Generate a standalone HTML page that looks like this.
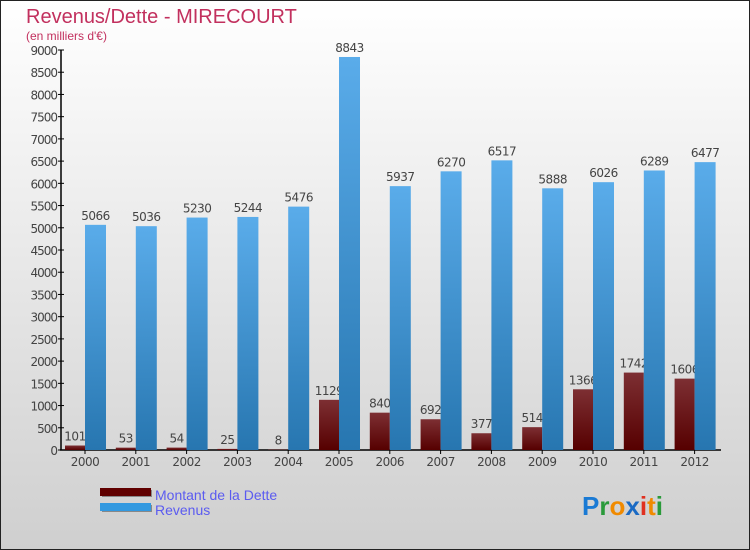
<!DOCTYPE html>
<html><head><meta charset="utf-8"><style>
html,body{margin:0;padding:0}
body{width:750px;height:550px;overflow:hidden;font-family:"DejaVu Sans","Liberation Sans",sans-serif}
#wrap{position:absolute;left:0;top:0;width:748px;height:548px;border:1px solid #222;background:linear-gradient(#ffffff,#cfcfcf)}
</style></head><body>
<div id="wrap">
<svg id="chart" width="750" height="550" style="position:absolute;left:-1px;top:-1px">
<defs>
<linearGradient id="gRed" x1="0" y1="0" x2="0" y2="1"><stop offset="0" stop-color="#7d2f33"/><stop offset="1" stop-color="#560000"/></linearGradient>
<linearGradient id="gBlue" x1="0" y1="0" x2="0" y2="1"><stop offset="0" stop-color="#5aacea"/><stop offset="1" stop-color="#2776b0"/></linearGradient>
</defs>
<text x="26" y="23" font-size="20" fill="#c2305e" font-family="Liberation Sans,sans-serif">Revenus/Dette - MIRECOURT</text>
<text x="26" y="40" font-size="12" fill="#c2305e" font-family="Liberation Sans,sans-serif">(en milliers d'€)</text>
<g id="plot"></g>
<g>
<rect x="102" y="490" width="50" height="7" fill="#888"/><rect x="100" y="488" width="51" height="8" fill="#600000"/>
<text x="155" y="500" font-size="14" fill="#5b5bf0" font-family="Liberation Sans,sans-serif">Montant de la Dette</text>
<rect x="102" y="505" width="50" height="7" fill="#888"/><rect x="100" y="503" width="51" height="8" fill="#3399e0"/>
<text x="155" y="515" font-size="14" fill="#5b5bf0" font-family="Liberation Sans,sans-serif">Revenus</text>
</g>
<g font-family="Liberation Sans,sans-serif" font-size="26" font-weight="bold">
<text x="582" y="515"><tspan fill="#1a7ad4">P</tspan><tspan fill="#2a9a3a">r</tspan><tspan fill="#f08a00">o</tspan><tspan fill="#1a6ac4">x</tspan><tspan fill="#e03020">i</tspan><tspan fill="#f08a00">t</tspan><tspan fill="#2a9a3a">i</tspan></text>
</g>
</svg>
</div>
<script>
const years=["2000","2001","2002","2003","2004","2005","2006","2007","2008","2009","2010","2011","2012"];
const debt=[101,53,54,25,8,1129,840,692,377,514,1366,1742,1606];
const revenue=[5066,5036,5230,5244,5476,8843,5937,6270,6517,5888,6026,6289,6477];
const yTicks=[0,500,1000,1500,2000,2500,3000,3500,4000,4500,5000,5500,6000,6500,7000,7500,8000,8500,9000];
const NS="http://www.w3.org/2000/svg";
const g=document.getElementById('plot');
const x0=61,x1=721,yBase=450,yTop=50,yMax=9000;
const y=v=>yBase-(v/yMax)*(yBase-yTop);
const step=50.8,first=85;
const xc=i=>first+i*step;
function mk(t,a){const e=document.createElementNS(NS,t);for(const k in a)e.setAttribute(k,a[k]);g.appendChild(e);return e;}
// axes
let e=mk('line',{x1:x0,y1:yTop,x2:x0,y2:yBase,stroke:'#000','stroke-width':1.5});


e=mk('line',{x1:x0-1,y1:yBase,x2:x1,y2:yBase,stroke:'#000','stroke-width':1.5});


yTicks.forEach(v=>{
 mk('line',{x1:x0-3,y1:y(v),x2:x0+3,y2:y(v),stroke:'#000'});
 const t=mk('text',{x:x0-4,y:y(v)+5,'text-anchor':'end','font-size':12,fill:'#444','letter-spacing':'-1'});
 t.textContent=v;
 
 
});
years.forEach((yr,i)=>{
 const c=xc(i);
 const r=mk('rect',{x:c-20,y:y(debt[i]),width:20,height:yBase-y(debt[i]),fill:'url(#gRed)'});
 
 
 const tl=mk('text',{x:c-10,y:y(debt[i])-5,'text-anchor':'middle','font-size':12,fill:'#444','letter-spacing':'-0.5'});
 tl.textContent=debt[i];
 
 
 const b=mk('rect',{x:c,y:y(revenue[i]),width:21,height:yBase-y(revenue[i]),fill:'url(#gBlue)'});
 
 
 const tb=mk('text',{x:c+10.5,y:y(revenue[i])-5,'text-anchor':'middle','font-size':12,fill:'#444','letter-spacing':'-0.5'});
 tb.textContent=revenue[i];
 
 
 mk('line',{x1:c,y1:yBase,x2:c,y2:yBase+4,stroke:'#000'});
 const xl=mk('text',{x:c,y:yBase+16,'text-anchor':'middle','font-size':12,fill:'#444','letter-spacing':'-0.5'});
 xl.textContent=yr;
 
 
});
</script>
</body></html>
